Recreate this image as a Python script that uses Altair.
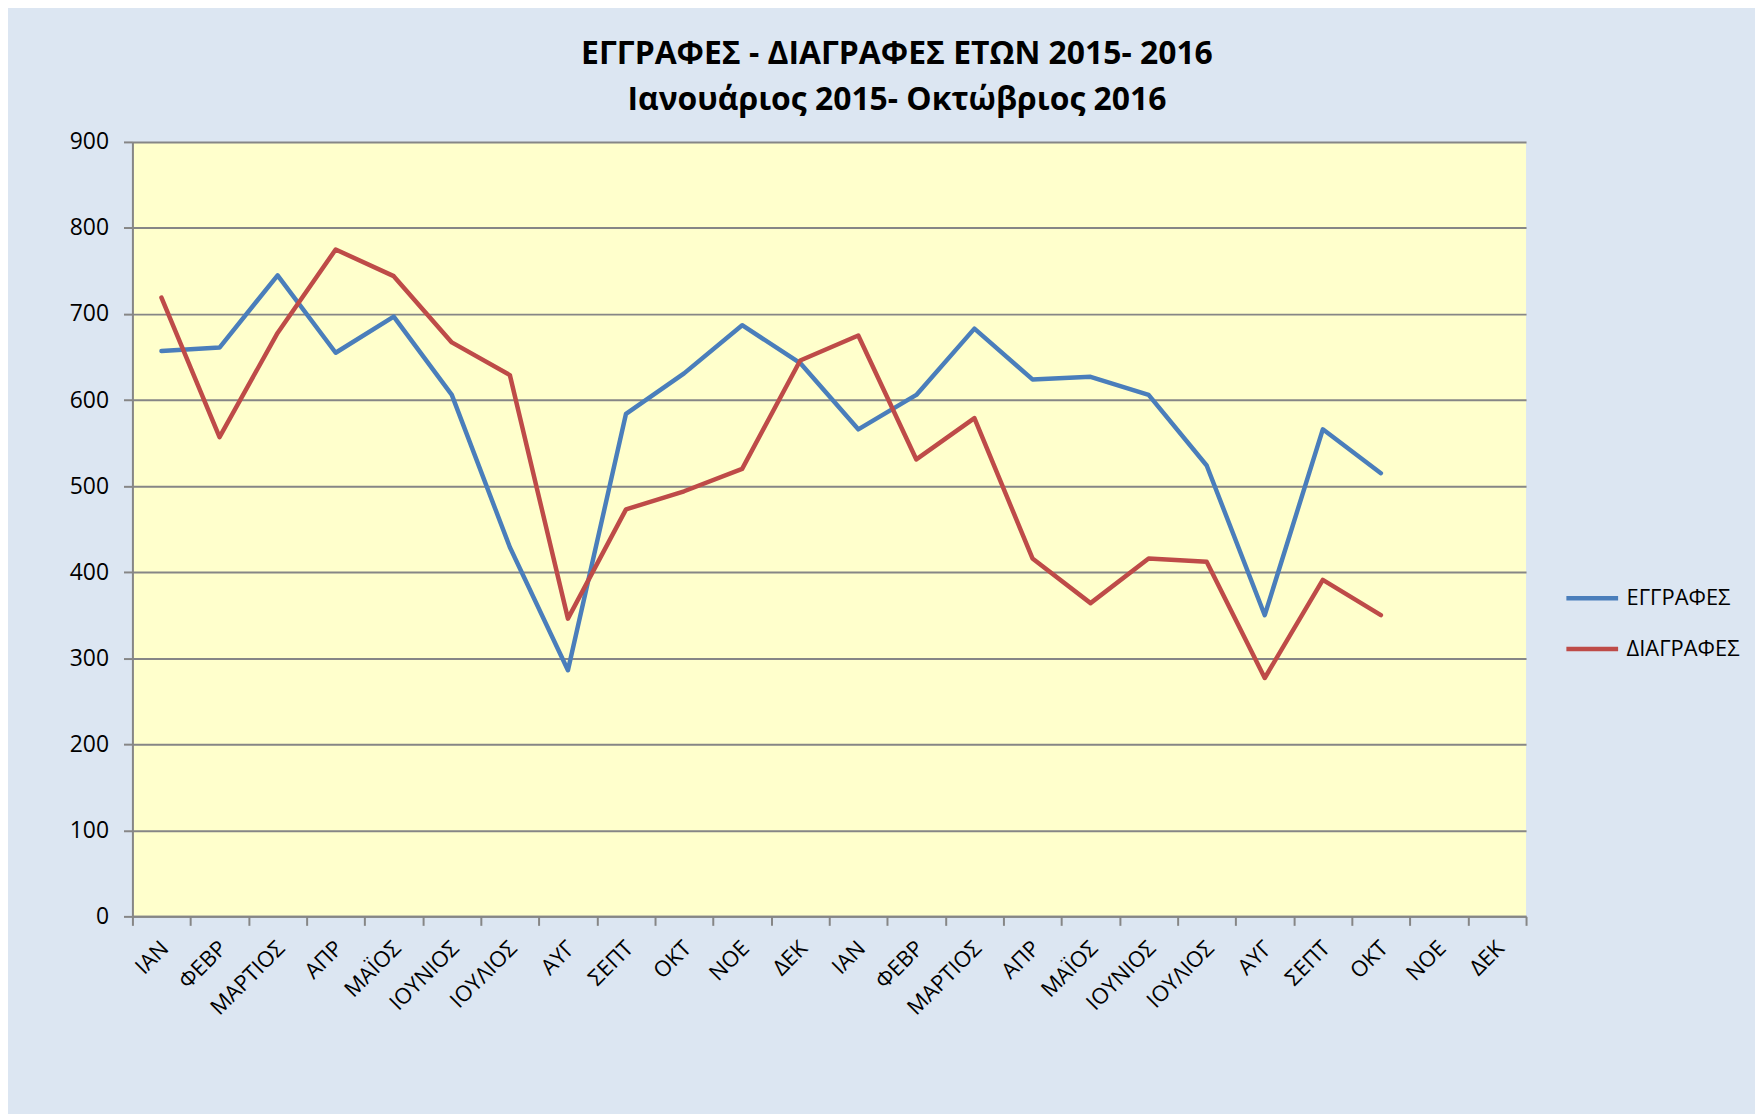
import altair as alt
import pandas as pd

months = ["ΙΑΝ", "ΦΕΒΡ", "ΜΑΡΤΙΟΣ", "ΑΠΡ", "ΜΑΪΟΣ", "ΙΟΥΝΙΟΣ", "ΙΟΥΛΙΟΣ", "ΑΥΓ",
          "ΣΕΠΤ", "ΟΚΤ", "ΝΟΕ", "ΔΕΚ"]
labels = months + months  # 2015 + 2016

eggrafes = [657, 661, 745, 655, 697, 606, 429, 286, 584, 631, 687, 643,
            566, 606, 683, 624, 627, 606, 524, 350, 566, 515]
diagrafes = [719, 557, 678, 775, 744, 667, 629, 346, 473, 494, 520, 646,
             675, 531, 579, 416, 364, 416, 412, 277, 391, 350]

series_names = ["ΕΓΓΡΑΦΕΣ", "ΔΙΑΓΡΑΦΕΣ"]
series_colors = ["#4A7EBB", "#BE4B48"]

rows = []
for name, vals in zip(series_names, [eggrafes, diagrafes]):
    for i, v in enumerate(vals):
        rows.append({"idx": i, "series": name, "value": v})
df = pd.DataFrame(rows)

label_js = "[" + ",".join("'" + s + "'" for s in labels) + "]"

FONT = "Open Sans"

chart = alt.Chart(df).mark_line(strokeWidth=4.5, strokeCap="round", strokeJoin="round").encode(
    x=alt.X("idx:O",
            scale=alt.Scale(type="band", domain=list(range(len(labels))), paddingInner=0, paddingOuter=0),
            axis=alt.Axis(title=None, labelAngle=-45, labelExpr=label_js + "[datum.value]",
                          tickBand="extent", grid=False, labelFontSize=22, labelFont=FONT,
                          labelColor="#000000", domainColor="#868686", domainWidth=2,
                          tickColor="#868686", tickWidth=2, tickSize=9, labelPadding=12,
                          labelOffset=-4)),
    y=alt.Y("value:Q",
            scale=alt.Scale(domain=[0, 900], nice=False),
            axis=alt.Axis(title=None, values=list(range(0, 901, 100)), labelFontSize=23, labelFont=FONT,
                          labelColor="#000000", domainColor="#868686", domainWidth=2,
                          tickColor="#868686", tickWidth=2, tickSize=9, labelPadding=15,
                          grid=True, gridColor="#868686", gridWidth=2)),
    color=alt.Color("series:N",
                    scale=alt.Scale(domain=series_names, range=series_colors),
                    legend=alt.Legend(title=None, orient="none", legendX=1438, legendY=430,
                                      symbolType="stroke", symbolSize=2700, symbolStrokeWidth=4.5,
                                      labelFontSize=22, labelFont=FONT, labelColor="#000000",
                                      rowPadding=11, padding=0, labelOffset=6)),
    order=alt.Order("idx:Q"),
).properties(
    width=1400,
    height=778,
    title=alt.TitleParams(
        text=["ΕΓΓΡΑΦΕΣ - ΔΙΑΓΡΑΦΕΣ ΕΤΩΝ 2015- 2016", "Ιανουάριος 2015- Οκτώβριος 2016"],
        font=FONT, fontSize=32, fontWeight="bold", color="#000000",
        anchor="middle", dx=68, offset=14, lineHeight=46),
    autosize=alt.AutoSizeParams(type="none"),
    padding={"left": 125, "top": 132, "right": 230, "bottom": 196},
).configure(
    background="#DCE6F2",
).configure_view(
    fill="#FFFFCC",
    stroke=None,
)

chart.save("out.html", embed_options={"renderer": "svg", "actions": False})
